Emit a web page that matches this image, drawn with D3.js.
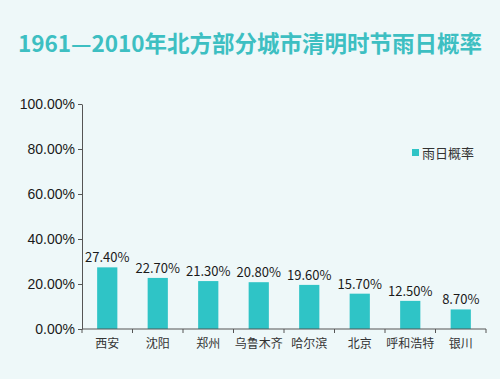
<!DOCTYPE html>
<html>
<head>
<meta charset="utf-8">
<script src="https://cdn.jsdelivr.net/npm/d3@7"></script>
<style>
  body { margin: 0; background: #eef8f9; }
  svg { display: block; font-family: "Noto Sans CJK SC", "DejaVu Sans", sans-serif; }
</style>
</head>
<body>
<svg id="chart"></svg>
<script>
// data
const cities = ['西安', '沈阳', '郑州', '乌鲁木齐', '哈尔滨', '北京', '呼和浩特', '银川'];
const rainProb = [27.4, 22.7, 21.3, 20.8, 19.6, 15.7, 12.5, 8.7];
const yTicks = [0, 20, 40, 60, 80, 100];
const seriesName = '雨日概率';
const titleText = '1961—2010年北方部分城市清明时节雨日概率';

const W = 500, H = 379;
const margin = { top: 104, right: 14, bottom: 50, left: 82 };
const width = W - margin.left - margin.right;
const height = H - margin.top - margin.bottom;

const svg = d3.select('#chart')
    .attr('width', W)
    .attr('height', H);

svg.append('rect')
    .attr('width', W).attr('height', H)
    .attr('fill', '#eef8f9');

// title
svg.append('text')
    .attr('x', W / 2)
    .attr('y', 52)
    .attr('text-anchor', 'middle')
    .attr('fill', '#3dbfc2')
    .style('font-size', '22.5px')
    .style('font-weight', 'bold')
    .text(titleText);

const chart = svg.append('g')
    .attr('transform', `translate(${margin.left},${margin.top})`);

const x = d3.scaleBand()
    .domain(cities)
    .range([0, width])
    .paddingInner(0.6)
    .paddingOuter(0.3);

const y = d3.scaleLinear()
    .domain([0, 100])
    .range([height, 0]);

// bars
chart.selectAll('.bar')
    .data(cities)
    .join('rect')
    .attr('class', 'bar')
    .attr('x', d => x(d))
    .attr('width', x.bandwidth())
    .attr('y', (d, i) => y(rainProb[i]))
    .attr('height', (d, i) => height - y(rainProb[i]))
    .attr('fill', '#2fc4c6');

// value labels
chart.selectAll('.val')
    .data(cities)
    .join('text')
    .attr('class', 'val')
    .attr('x', d => x(d) + x.bandwidth() / 2)
    .attr('y', (d, i) => y(rainProb[i]) - 5)
    .attr('text-anchor', 'middle')
    .attr('fill', '#1a1a1a')
    .style('font-size', '13px')
    .text((d, i) => rainProb[i].toFixed(2) + '%');

// y axis
const yAxisG = chart.append('g')
    .call(d3.axisLeft(y).tickValues(yTicks).tickSize(4).tickSizeOuter(0)
        .tickFormat(d => d.toFixed(2) + '%'));
yAxisG.select('.domain').attr('stroke', '#555');
yAxisG.selectAll('.tick line').attr('stroke', '#555');
yAxisG.selectAll('.tick text')
    .attr('fill', '#1a1a1a')
    .attr('x', -7)
    .style('font-size', '14px');

// x axis with category dividers
const xAxisG = chart.append('g')
    .attr('transform', `translate(0,${height})`);
xAxisG.append('line')
    .attr('x1', 0).attr('x2', width)
    .attr('stroke', '#555');
xAxisG.selectAll('.sep')
    .data(d3.range(cities.length + 1))
    .join('line')
    .attr('x1', i => i * width / cities.length)
    .attr('x2', i => i * width / cities.length)
    .attr('y1', 0).attr('y2', 4)
    .attr('stroke', '#555');
xAxisG.selectAll('.cat')
    .data(cities)
    .join('text')
    .attr('x', d => x(d) + x.bandwidth() / 2)
    .attr('y', 19)
    .attr('text-anchor', 'middle')
    .attr('fill', '#333')
    .style('font-size', '12px')
    .text(d => d);

// legend
const legend = svg.append('g')
    .attr('transform', 'translate(412,149)');
legend.append('rect')
    .attr('width', 7).attr('height', 7)
    .attr('fill', '#2fc4c6');
legend.append('text')
    .attr('x', 10).attr('y', 9)
    .attr('fill', '#333')
    .style('font-size', '13px')
    .text(seriesName);
</script>
</body>
</html>
